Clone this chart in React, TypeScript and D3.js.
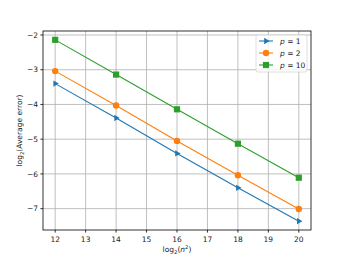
import { line, scaleLinear, symbol, symbolCircle, symbolSquare } from "d3";

const WIDTH = 346;
const HEIGHT = 259;
const FRAME = { left: 43, right: 311, top: 31, bottom: 230 };

const xValues = [12, 14, 16, 18, 20];
const p1Values = [-3.4, -4.39, -5.41, -6.4, -7.36];
const p2Values = [-3.04, -4.03, -5.05, -6.04, -7.01];
const p10Values = [-2.14, -3.14, -4.14, -5.13, -6.11];
const xTicks = [12, 13, 14, 15, 16, 17, 18, 19, 20];
const yTicks = [-2, -3, -4, -5, -6, -7];

const series = [
  { label: "1", values: p1Values, color: "#1f77b4", marker: "tri" },
  { label: "2", values: p2Values, color: "#ff7f0e", marker: "circle" },
  { label: "10", values: p10Values, color: "#2ca02c", marker: "square" },
];

const FONT = "DejaVu Sans, sans-serif";
const fmt = (v: number) => (v < 0 ? "\u2212" + Math.abs(v) : String(v));

function Marker({ kind, x, y, color }: { kind: string; x: number; y: number; color: string }) {
  if (kind === "tri") {
    const r = 3.6;
    return (
      <path
        d={`M${x + r},${y} L${x - r * 0.5},${y - r * 0.87} L${x - r * 0.5},${y + r * 0.87} Z`}
        fill={color}
      />
    );
  }
  const d =
    kind === "circle"
      ? symbol(symbolCircle, Math.PI * 3.2 * 3.2)()
      : symbol(symbolSquare, 6.2 * 6.2)();
  return <path d={d ?? ""} transform={`translate(${x},${y})`} fill={color} />;
}

export default function App() {
  const x = scaleLinear().domain([11.6, 20.4]).range([FRAME.left, FRAME.right]);
  const y = scaleLinear().domain([-7.615, -1.885]).range([FRAME.bottom, FRAME.top]);

  const makeLine = line<number>()
    .x((_, i) => x(xValues[i]))
    .y((v) => y(v));

  return (
    <svg
      width={WIDTH}
      height={HEIGHT}
      viewBox={`0 0 ${WIDTH} ${HEIGHT}`}
      style={{ position: "absolute", left: 0, top: 0, background: "#fff" }}
      fontFamily={FONT}
    >
      {/* grid */}
      {xTicks.map((t) => (
        <line key={"gx" + t} x1={x(t)} x2={x(t)} y1={FRAME.top} y2={FRAME.bottom} stroke="#b0b0b0" strokeWidth={0.8} />
      ))}
      {yTicks.map((t) => (
        <line key={"gy" + t} x1={FRAME.left} x2={FRAME.right} y1={y(t)} y2={y(t)} stroke="#b0b0b0" strokeWidth={0.8} />
      ))}

      {series.map((s) => (
        <g key={s.label}>
          <path d={makeLine(s.values) ?? ""} fill="none" stroke={s.color} strokeWidth={1.1} />
          {s.values.map((v, i) => (
            <Marker key={i} kind={s.marker} x={x(xValues[i])} y={y(v)} color={s.color} />
          ))}
        </g>
      ))}

      {/* frame */}
      <rect
        x={FRAME.left}
        y={FRAME.top}
        width={FRAME.right - FRAME.left}
        height={FRAME.bottom - FRAME.top}
        fill="none"
        stroke="#000"
        strokeWidth={0.8}
      />

      {/* x ticks */}
      {xTicks.map((t) => (
        <g key={"tx" + t}>
          <line x1={x(t)} x2={x(t)} y1={FRAME.bottom} y2={FRAME.bottom + 2.6} stroke="#000" strokeWidth={0.8} />
          <text x={x(t)} y={FRAME.bottom + 12} fontSize={7.5} textAnchor="middle" fill="#222">
            {fmt(t)}
          </text>
        </g>
      ))}
      {/* y ticks */}
      {yTicks.map((t) => (
        <g key={"ty" + t}>
          <line x1={FRAME.left - 2.6} x2={FRAME.left} y1={y(t)} y2={y(t)} stroke="#000" strokeWidth={0.8} />
          <text x={FRAME.left - 5} y={y(t)} dy="0.35em" fontSize={7.5} textAnchor="end" fill="#222">
            {fmt(t)}
          </text>
        </g>
      ))}

      {/* axis labels */}
      <text x={(FRAME.left + FRAME.right) / 2} y={252} fontSize={7.5} textAnchor="middle" fill="#222">
        log<tspan fontSize={5.3} dy={2}>2</tspan>
        <tspan dy={-2}>(</tspan>
        <tspan fontStyle="italic">n</tspan>
        <tspan fontSize={5.3} dy={-3}>2</tspan>
        <tspan dy={3}>)</tspan>
      </text>
      <text
        transform={`translate(22,${(FRAME.top + FRAME.bottom) / 2}) rotate(-90)`}
        fontSize={7.5}
        textAnchor="middle"
        fill="#222"
      >
        log<tspan fontSize={5.3} dy={2}>2</tspan>
        <tspan dy={-2}>(Average error)</tspan>
      </text>

      {/* legend */}
      <rect x={256} y={35} width={51} height={37} rx={2} fill="#fff" fillOpacity={0.8} stroke="#d5d5d5" strokeWidth={0.8} />
      {series.map((s, i) => {
        const ly = 41 + i * 12;
        return (
          <g key={"lg" + s.label}>
            <line x1={259} x2={273} y1={ly} y2={ly} stroke={s.color} strokeWidth={1.1} />
            <Marker kind={s.marker} x={266} y={ly} color={s.color} />
            <text x={280} y={ly} dy="0.35em" fontSize={7.5} fill="#222">
              <tspan fontStyle="italic">p</tspan> = {s.label}
            </text>
          </g>
        );
      })}
    </svg>
  );
}
